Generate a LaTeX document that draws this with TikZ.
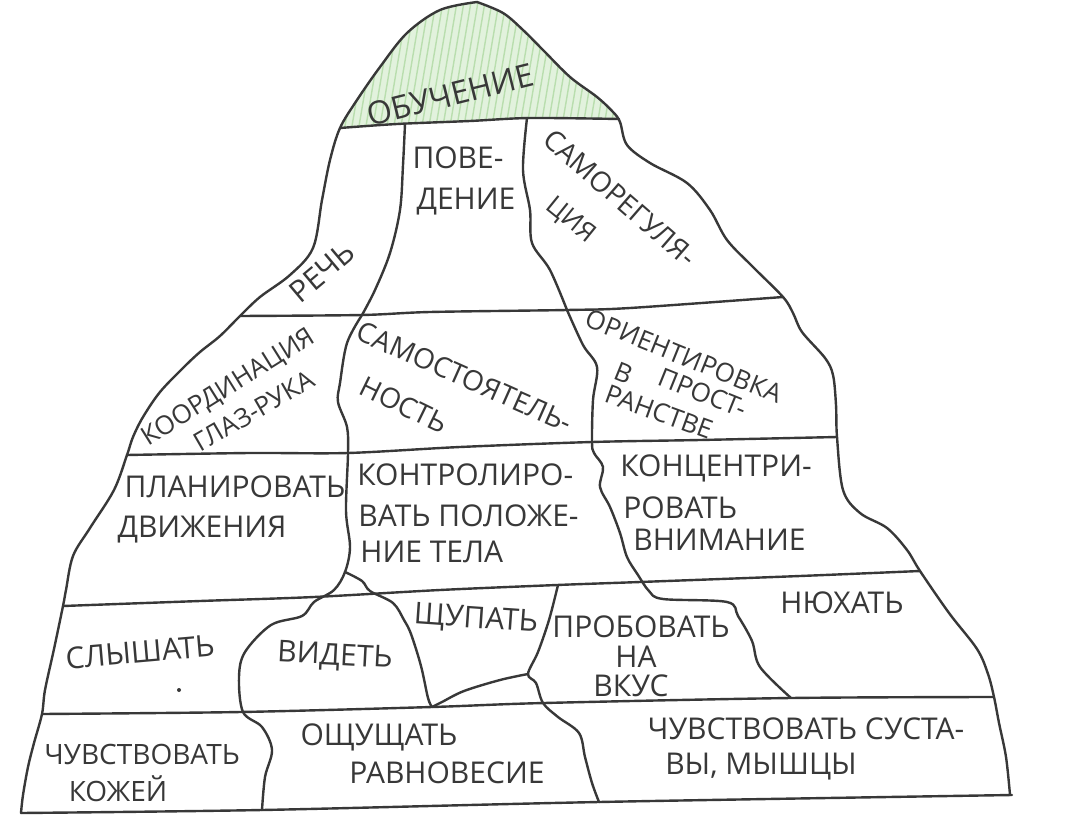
\documentclass[tikz,border=0pt]{standalone}
\usepackage{fontspec}
\setmainfont{Open Sans}
\definecolor{ink}{HTML}{383838}
\definecolor{leaf}{HTML}{E2F2DD}
\definecolor{hatch}{HTML}{B9DEAE}
\def\summit{plot[smooth,tension=0.6] coordinates {(340,128) (357,100) (380,67) (407,33) (440,10) (477,2)}
  -- plot[smooth,tension=0.6] coordinates {(477,2) (503,13) (523,30) (543,50) (570,77) (597,97) (613,113) (619,119)}
  -- plot[smooth,tension=0.6] coordinates {(619,119) (530,118) (470,121) (397,124) (340,128)} -- cycle}
\begin{document}
\begin{tikzpicture}[x=0.5pt,y=-0.5pt,
  line/.style={draw=ink, line width=1.2pt, line cap=round, line join=round},
  lbl/.style={text=ink, inner sep=0pt, font=\fontsize{15}{18}\selectfont},
  sm/.style={font=\fontsize{14}{17}\selectfont},
  xs/.style={font=\fontsize{13}{16}\selectfont}]
\useasboundingbox (0,0) rectangle (1080,823);
\fill[white] (0,0) rectangle (1080,823);
% green summit
\fill[leaf] \summit;
\begin{scope}
  \clip \summit;
  \foreach \x in {330,337,...,640} \draw[hatch, line width=0.7pt] (\x,132) -- ++(22,-130);
\end{scope}
% outline left
\draw[line] plot[smooth,tension=0.55] coordinates {(477,2) (440,10) (407,33) (380,67) (357,100) (340,128) (330,160) (322,200) (313,248) (290,275) (260,297) (240,316) (220,336) (200,352) (183,368) (160,392) (143,417) (133,437) (127,455) (114,490) (90,528) (73,556) (66,590) (63,606) (54,649) (45,690) (42,714) (34,743) (28,767) (23,795) (21,813)};
% outline right
\draw[line] plot[smooth,tension=0.55] coordinates {(477,2) (503,13) (523,30) (543,50) (570,77) (597,97) (613,112) (620,122) (627,145) (650,163) (687,183) (710,210) (727,240) (753,267) (783,297) (793,313) (802,332) (825,358) (833,375) (836,405) (837,437) (843,490) (860,513) (887,528) (907,550) (920,571) (949,613) (977,649) (988,674) (994,697) (999,723) (1006,757) (1010,795)};
% bottom
\draw[line] plot[smooth,tension=0.5] coordinates {(21,813) (262,810) (599,802) (1012,795)};
% horizontal band lines
\draw[line] plot[smooth,tension=0.5] coordinates {(340,128) (397,124) (470,121) (530,118) (619,119)};
\draw[line] plot[smooth,tension=0.5] coordinates {(240,316) (362,315) (430,312) (567,310) (630,308) (783,297)};
\draw[line] plot[smooth,tension=0.5] coordinates {(127,455) (250,453) (348,453) (460,447) (592,442) (700,440) (837,437)};
\draw[line] plot[smooth,tension=0.5] coordinates {(63,606) (200,601) (314,597) (440,590) (557,585) (640,582) (800,576) (920,571)};
\draw[line] plot[smooth,tension=0.5] coordinates {(42,714) (241,712) (432,707) (544,703) (791,698) (994,697)};
% dividers
\draw[line] plot[smooth,tension=0.55] coordinates {(405,124) (403,165) (400,210) (390,253) (375,290) (362,315)};
\draw[line] plot[smooth,tension=0.55] coordinates {(527,118) (523,170) (530,210) (532,243) (550,270) (567,310)};
\draw[line] plot[smooth,tension=0.55] coordinates {(362,315) (347,343) (340,383) (338,402) (347,427) (348,453) (346,511) (350,547) (345,572) (334,590) (314,602) (302,616) (271,625) (245,652) (239,677) (243,712) (262,727) (272,750) (265,777) (262,810)};
\draw[line] plot[smooth,tension=0.55] coordinates {(345,572) (362,581) (370,591) (393,603) (404,620) (411,634) (421,666) (428,698) (432,707)};
\draw[line] plot[smooth,tension=0.55] coordinates {(567,310) (583,345) (597,367) (593,400) (592,442) (594,453) (603,467) (600,487) (610,507) (620,533) (627,557) (638,575) (649,591) (663,599) (727,602) (738,616) (752,641) (760,667) (791,698)};
\draw[line] plot[smooth,tension=0.55] coordinates {(558,585) (549,620) (538,652) (528,674) (536,683) (543,703) (558,717) (579,733) (585,757) (592,783) (599,802)};
\draw[line] plot[smooth,tension=0.55] coordinates {(528,674) (500,680) (464,691) (442,702) (432,707)};
% dot
\fill[ink] (179,690) circle (2);
% labels
\node[lbl, font=\fontsize{16}{19}\selectfont, rotate=14] (obuch) at (450,95) {ОБУЧЕНИЕ};
\node[lbl] (pove1) at (458,158) {ПОВЕ-};
\node[lbl] (pove2) at (466,202) {ДЕНИЕ};
\node[lbl, sm, rotate=-41] (samo1) at (620,198) {САМОРЕГУЛЯ-};
\node[lbl, xs, rotate=-39] (samo2) at (570,221) {ЦИЯ};
\node[lbl, rotate=40] (rech) at (322,272) {РЕЧЬ};
\node[lbl, xs, rotate=32] (koord1) at (229,388) {КООРДИНАЦИЯ};
\node[lbl, xs, rotate=30] (koord2) at (254,411) {ГЛАЗ-РУКА};
\node[lbl, sm, rotate=-24] (samost1) at (465,377) {САМОСТОЯТЕЛЬ-};
\node[lbl, sm, rotate=-26] (samost2) at (404,405) {НОСТЬ};
\node[lbl, xs, rotate=-22] (orient1) at (684,356) {ОРИЕНТИРОВКА};
\node[lbl, xs, rotate=-22] (orient2) at (624,373) {В};
\node[lbl, xs, rotate=-22] (orient3) at (703,393) {ПРОСТ-};
\node[lbl, xs, rotate=-20] (orient4) at (659,412) {РАНСТВЕ};
\node[lbl] (plan1) at (235,487) {ПЛАНИРОВАТЬ};
\node[lbl] (plan2) at (202,530) {ДВИЖЕНИЯ};
\node[lbl, anchor=west] (kontr1) at (357,475) {КОНТРОЛИРО-};
\node[lbl, anchor=west] (kontr2) at (358,516) {ВАТЬ ПОЛОЖЕ-};
\node[lbl, anchor=west] (kontr3) at (360,552) {НИЕ ТЕЛА};
\node[lbl, anchor=west] (konc1) at (620,468) {КОНЦЕНТРИ-};
\node[lbl, anchor=west] (konc2) at (623,508) {РОВАТЬ};
\node[lbl, anchor=west] (konc3) at (633,540) {ВНИМАНИЕ};
\node[lbl, rotate=5] (slysh) at (140,652) {СЛЫШАТЬ};
\node[lbl, rotate=-3] (videt) at (335,657) {ВИДЕТЬ};
\node[lbl, rotate=-4] (shchup) at (476,620) {ЩУПАТЬ};
\node[lbl] (prob1) at (641,627) {ПРОБОВАТЬ};
\node[lbl] (prob2) at (636,657) {НА};
\node[lbl] (prob3) at (631,686) {ВКУС};
\node[lbl] (nyukh) at (842,603) {НЮХАТЬ};
\node[lbl, sm] (chuv1) at (142,754) {ЧУВСТВОВАТЬ};
\node[lbl, sm] (chuv2) at (118,789) {КОЖЕЙ};
\node[lbl] (oshch1) at (379,737) {ОЩУЩАТЬ};
\node[lbl] (oshch2) at (447,773) {РАВНОВЕСИЕ};
\node[lbl] (sust1) at (806,729) {ЧУВСТВОВАТЬ СУСТА-};
\node[lbl] (sust2) at (761,767) {ВЫ, МЫШЦЫ};
\end{tikzpicture}
\end{document}
